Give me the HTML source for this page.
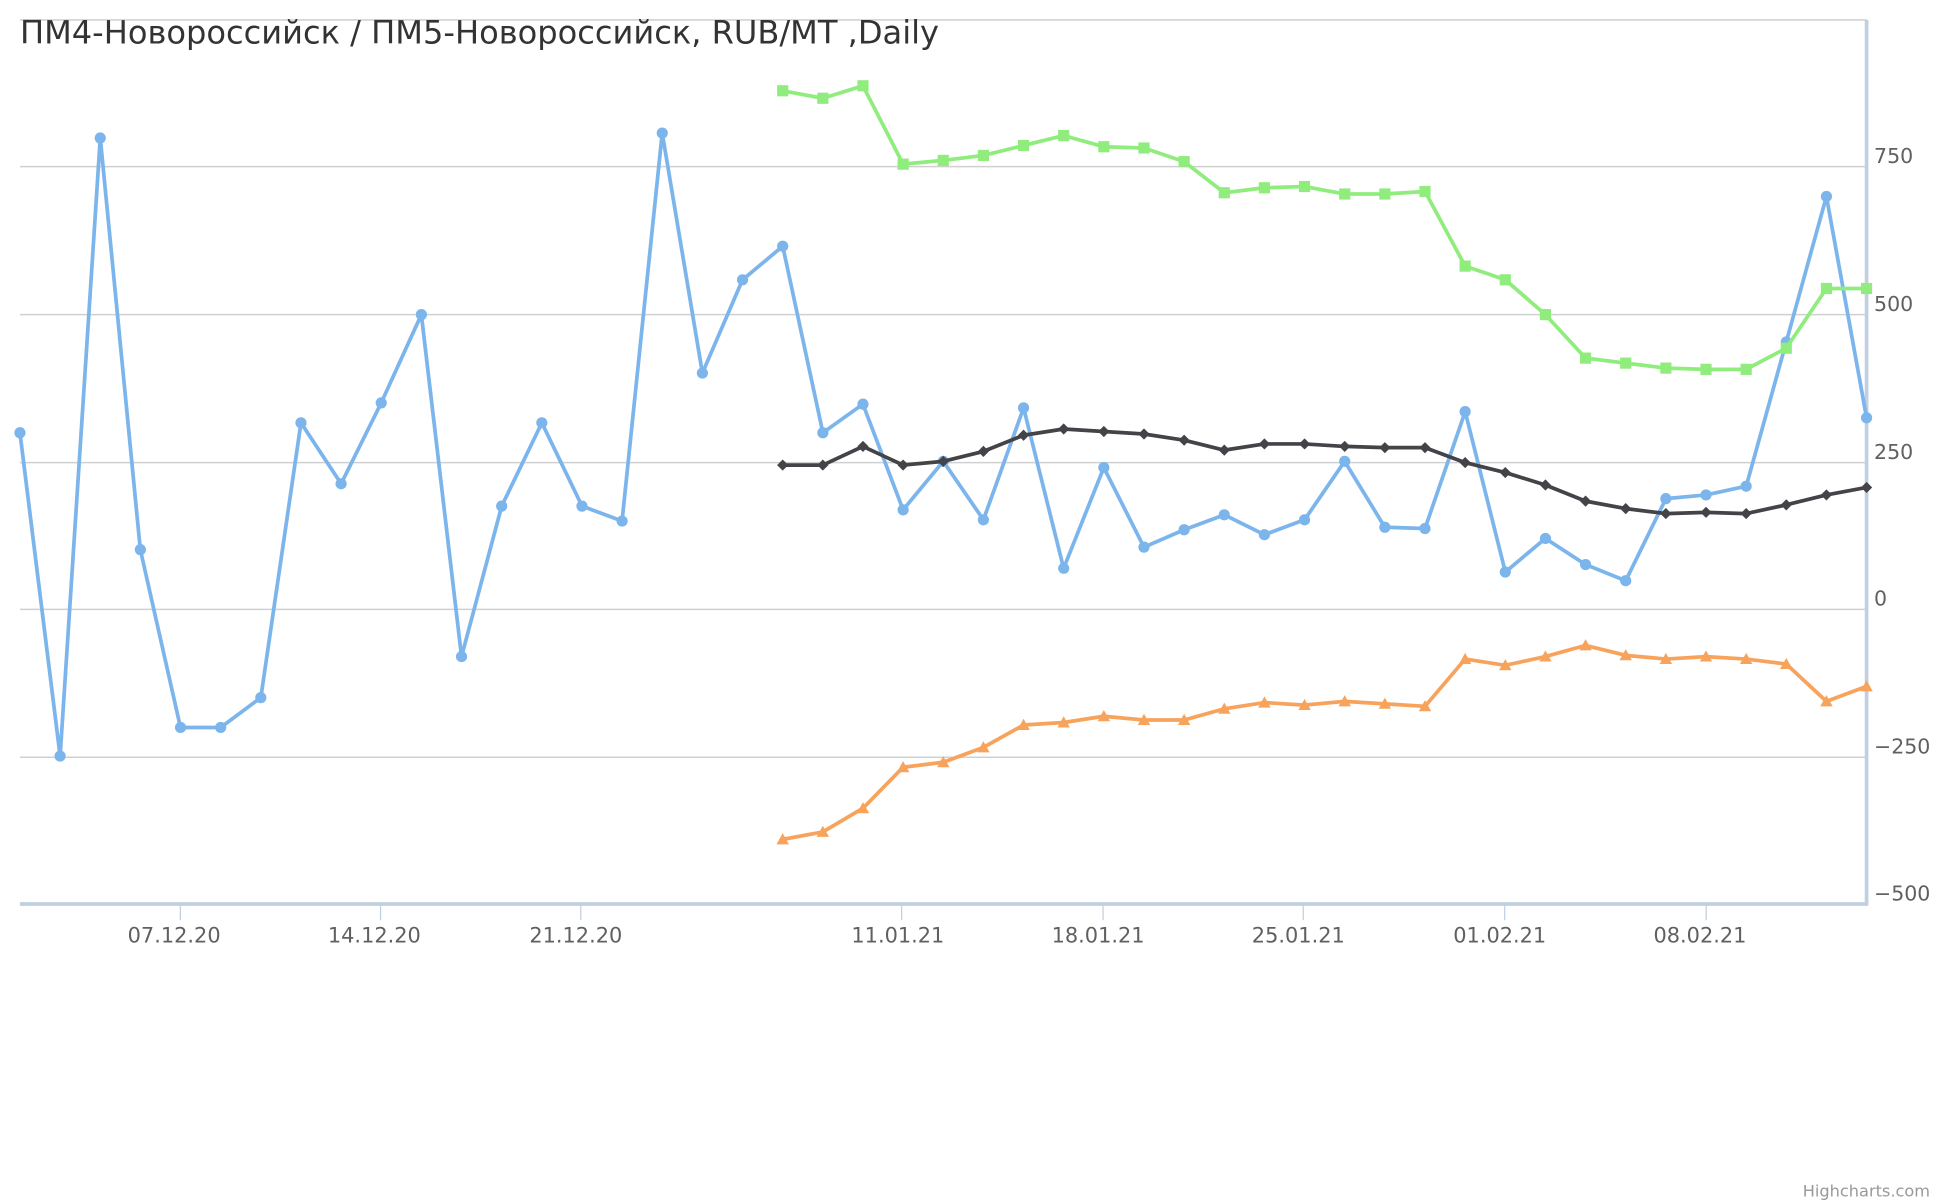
<!DOCTYPE html>
<html><head><meta charset="utf-8"><style>
html,body{margin:0;padding:0;background:#fff;}
svg{display:block;}
</style></head><body>
<svg id="c" width="1940" height="1200" viewBox="0 0 1560 965" xmlns="http://www.w3.org/2000/svg" font-family="DejaVu Sans, Liberation Sans, sans-serif">
<rect width="1560" height="965" fill="#fff"/>
<line x1="16" y1="16" x2="1501" y2="16" stroke="#d8d8d8" stroke-width="1.5"/>
<g stroke="#d0d0d0" stroke-width="1.2">
<line x1="16" y1="134" x2="1501" y2="134"/>
<line x1="16" y1="253" x2="1501" y2="253"/>
<line x1="16" y1="372" x2="1501" y2="372"/>
<line x1="16" y1="490" x2="1501" y2="490"/>
<line x1="16" y1="609" x2="1501" y2="609"/>
</g>
<line x1="1501" y1="16" x2="1501" y2="728" stroke="#c0d0e0" stroke-width="3"/>
<line x1="16" y1="727" x2="1502" y2="727" stroke="#c0d0e0" stroke-width="3"/>
<g stroke="#c0d0e0" stroke-width="1">
<line x1="145" y1="728" x2="145" y2="740"/><line x1="306" y1="728" x2="306" y2="740"/><line x1="467" y1="728" x2="467" y2="740"/>
<line x1="725" y1="728" x2="725" y2="740"/><line x1="887" y1="728" x2="887" y2="740"/><line x1="1048" y1="728" x2="1048" y2="740"/>
<line x1="1210" y1="728" x2="1210" y2="740"/><line x1="1372" y1="728" x2="1372" y2="740"/>
</g>
<g fill="#606060" font-size="16.8" text-anchor="middle">
<text x="140" y="758">07.12.20</text><text x="301" y="758">14.12.20</text><text x="463" y="758">21.12.20</text>
<text x="722" y="758">11.01.21</text><text x="883" y="758">18.01.21</text><text x="1044" y="758">25.01.21</text>
<text x="1206" y="758">01.02.21</text><text x="1367" y="758">08.02.21</text>
</g>
<g fill="#606060" font-size="16.5">
<text x="1507" y="131">750</text><text x="1507" y="250">500</text><text x="1507" y="369">250</text>
<text x="1507" y="487">0</text><text x="1507" y="606">−250</text><text x="1507" y="724">−500</text>
</g>
<text x="16" y="35" font-size="25.8" fill="#333">ПМ4-Новороссийск / ПМ5-Новороссийск, RUB/MT ,Daily</text>
<text x="1552" y="962" font-size="13" fill="#999" text-anchor="end">Highcharts.com</text>
<g id="s"></g>
</svg>
<script>
var blue=[348,608,111,442,585,585,561,340,389,324,253,528,407,340,407,419,107,300,225,198,348,325,410,371,418,328,457,376,440,426,414,430,418,371,424,425,331,460,433,454,467,401,398,391,275,158,336];
var green=[73,79,69,132,129,125,117,109,118,119,130,155,151,150,156,156,154,214,225,253,288,292,296,297,297,280,232,232];
var black=[374,374,359,374,371,363,350,345,347,349,354,362,357,357,359,360,360,372,380,390,403,409,413,412,413,406,398,392];
var orange=[675,669,650,617,613,601,583,581,576,579,579,570,565,567,564,566,568,530,535,528,519,527,530,528,530,534,564,552];
var step=(1501-16)/46,g=document.getElementById('s'),h='';
function X(i){return 16+i*step;}
function ser(d,off,col,mk){
 var p='';d.forEach(function(y,i){p+=(i?'L':'M')+X(i+off).toFixed(1)+' '+y+' ';});
 h+='<path d="'+p+'" fill="none" stroke="'+col+'" stroke-width="3" stroke-linejoin="round"/>';
 d.forEach(function(y,i){var x=X(i+off);
  if(mk=='c')h+='<circle cx="'+x+'" cy="'+y+'" r="4.5" fill="'+col+'"/>';
  else if(mk=='s')h+='<rect x="'+(x-4.5)+'" y="'+(y-4.5)+'" width="9" height="9" fill="'+col+'"/>';
  else if(mk=='d')h+='<path d="M'+x+' '+(y-4.5)+'L'+(x+4.5)+' '+y+'L'+x+' '+(y+4.5)+'L'+(x-4.5)+' '+y+'Z" fill="'+col+'"/>';
  else h+='<path d="M'+x+' '+(y-5)+'L'+(x+5)+' '+(y+4)+'L'+(x-5)+' '+(y+4)+'Z" fill="'+col+'"/>';
 });
}
ser(blue,0,'#7cb5ec','c');ser(green,19,'#90ed7d','s');ser(black,19,'#434348','d');ser(orange,19,'#f7a35c','t');
g.innerHTML=h;
</script>
</body></html>
